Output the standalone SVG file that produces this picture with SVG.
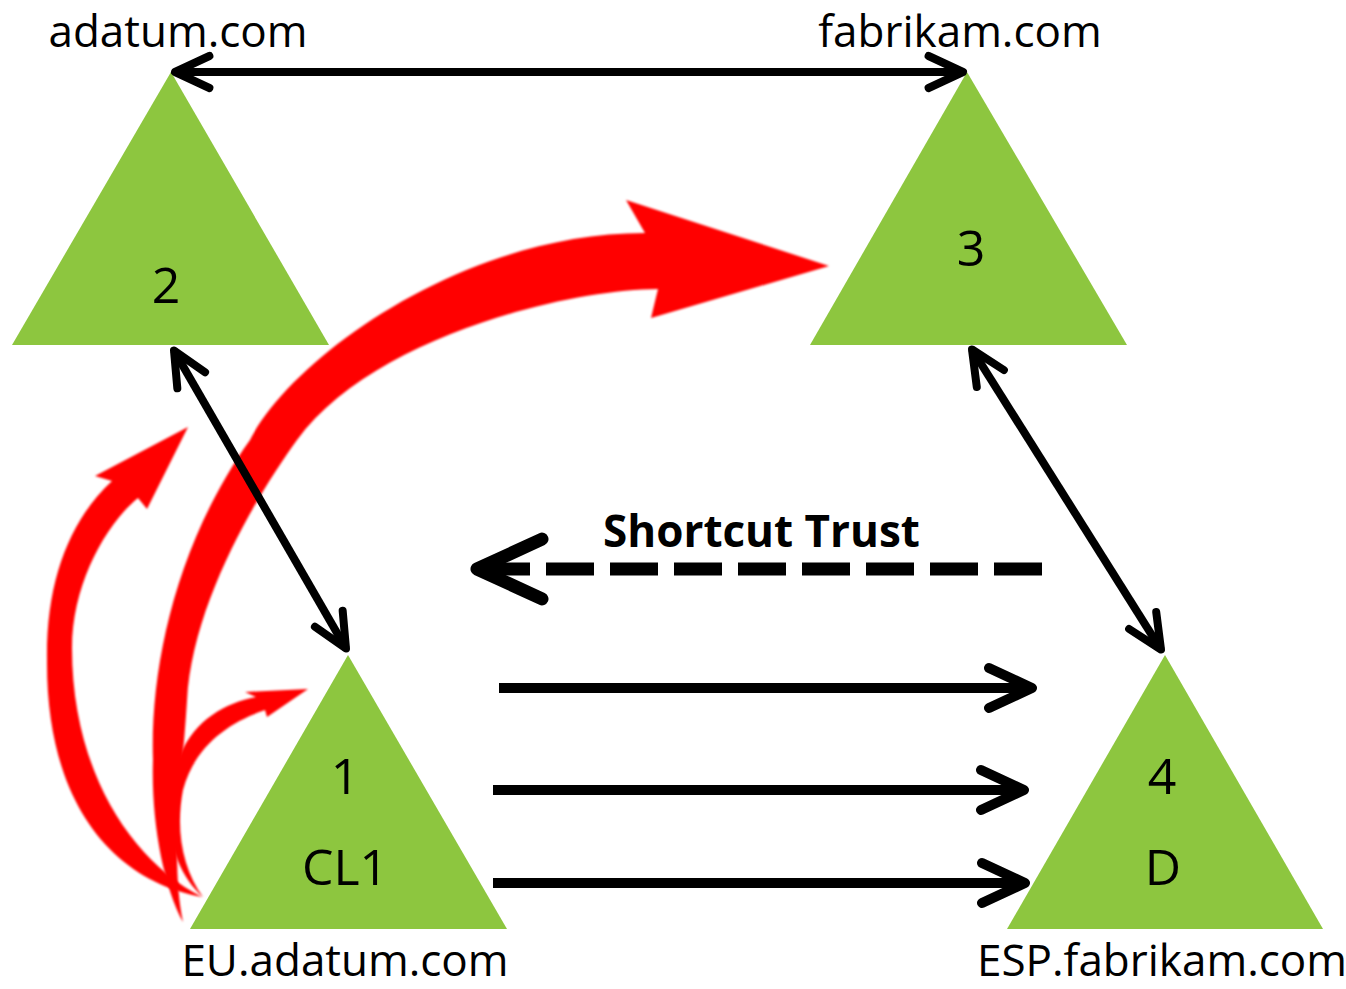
<svg xmlns="http://www.w3.org/2000/svg" width="1346" height="989" viewBox="0 0 1346 989">
  <defs>
    <style>
      .tri { fill: #8dc63f; }
      .lbl { font-family: "Open Sans", "Noto Sans", sans-serif; font-size: 50px; fill: #000; text-anchor: middle; }
      .dom { font-family: "Open Sans", "Noto Sans", sans-serif; font-size: 44px; fill: #000; text-anchor: middle; }
      .note { font-family: "Open Sans", "Noto Sans", sans-serif; font-size: 44px; font-weight: bold; fill: #000; }
      .link { fill: none; stroke: #000; stroke-width: 8; }
      .link.heavy { stroke-width: 10; }
      .dash { fill: none; stroke: #000; stroke-width: 13; stroke-dasharray: 48 16; }
      .flow { fill: #ff0000; filter: url(#soft); }
    </style>
    <!-- open chevron head, scaled with the line width -->
    <marker id="chev" markerUnits="strokeWidth" orient="auto-start-reverse" overflow="visible" markerWidth="1" markerHeight="1">
      <path d="M-4.3,-2 L0,0 L-4.3,2" fill="none" stroke="#000" stroke-width="1" stroke-linecap="round" stroke-linejoin="round"/>
    </marker>
    <marker id="chev-lg" markerUnits="strokeWidth" orient="auto" overflow="visible" markerWidth="1" markerHeight="1">
      <path d="M-5,-2.3 L0,0 L-5,2.3" fill="none" stroke="#000" stroke-width="1" stroke-linecap="round" stroke-linejoin="round"/>
    </marker>
    <filter id="soft" x="-5%" y="-5%" width="110%" height="110%">
      <feGaussianBlur stdDeviation="0.9"/>
    </filter>
  </defs>

  <rect width="1346" height="989" fill="#fff"/>

  <!-- forest root: adatum.com -->
  <g id="node-2">
    <polygon class="tri" points="171,72 329,345 12,345"/>
    <text class="lbl" x="166" y="303">2</text>
    <text class="dom" x="178" y="47">adatum.com</text>
  </g>

  <!-- forest root: fabrikam.com -->
  <g id="node-3">
    <polygon class="tri" points="967,72 1127,345 810,345"/>
    <text class="lbl" x="971" y="266">3</text>
    <text class="dom" x="960" y="47">fabrikam.com</text>
  </g>

  <!-- child domain: EU.adatum.com -->
  <g id="node-1">
    <polygon class="tri" points="348,655 507,929 190,929"/>
    <text class="lbl" x="345" y="794">1</text>
    <text class="lbl" x="345" y="885">CL1</text>
    <text class="dom" x="345" y="976">EU.adatum.com</text>
  </g>

  <!-- child domain: ESP.fabrikam.com -->
  <g id="node-4">
    <polygon class="tri" points="1165,655 1323,929 1007,929"/>
    <text class="lbl" x="1162" y="794">4</text>
    <text class="lbl" x="1163" y="885">D</text>
    <text class="dom" x="1162" y="976">ESP.fabrikam.com</text>
  </g>

  <!-- referral path taken without the shortcut -->
  <g id="referrals">
    <path class="flow" d="M183,922 C163,885 151,820 153,760 C150,670 175,545 250,440 C290,360 460,233 645,233 L626,200 L829,266 L651,318 L658,289 C560,290 370,340 297,440 C262,488 192,600 187,701 C182,780 170,860 183,922 Z"/>
    <path class="flow" d="M202,897 C110,880 46,800 47,660 C46,580 70,520 112,481 L95,476 L188,427 L147,509 L138,498 C105,525 72,585 72,648 C72,770 130,860 202,897 Z"/>
    <path class="flow" d="M203,897 C172,870 155,810 180,755 C195,720 225,703 256,697 L245,692 L308,689 L267,717 L265,710 C230,722 195,745 183,790 C175,830 183,870 203,897 Z"/>
  </g>

  <g id="connectors">
    <!-- forest trust -->
    <path class="link" d="M175,72 H963" marker-start="url(#chev)" marker-end="url(#chev)"/>
    <!-- parent-child trusts -->
    <path class="link" d="M174,350.5 L346,648.5" marker-start="url(#chev)" marker-end="url(#chev)"/>
    <path class="link" d="M972,349.4 L1161,649.6" marker-start="url(#chev)" marker-end="url(#chev)"/>
    <!-- shortcut trust -->
    <path class="dash" d="M1042,569 H477" marker-end="url(#chev-lg)"/>
    <text class="note" x="603" y="547">Shortcut Trust</text>
    <!-- direct access -->
    <path class="link heavy" d="M499,688 H1032" marker-end="url(#chev)"/>
    <path class="link heavy" d="M493,790 H1024" marker-end="url(#chev)"/>
    <path class="link heavy" d="M493,883 H1025" marker-end="url(#chev)"/>
  </g>
</svg>
